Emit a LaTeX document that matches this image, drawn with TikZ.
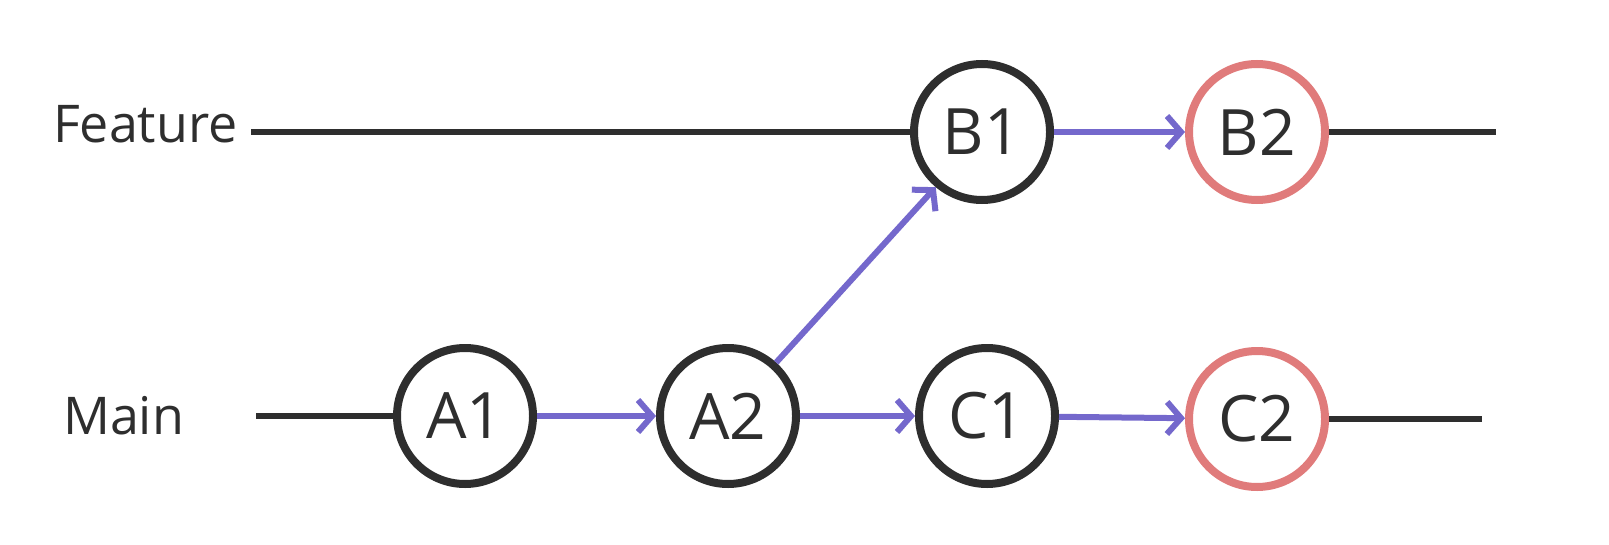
\documentclass[tikz,border=0pt]{standalone}
\usepackage{fontspec}
\setmainfont{Open Sans}
\usetikzlibrary{arrows.meta}

\definecolor{penblack}{HTML}{2E2E2E}
\definecolor{penblue}{HTML}{7468CC}
\definecolor{penred}{HTML}{E07B7B}

\begin{document}
\begin{tikzpicture}[x=0.5pt,y=-0.5pt,
  commit/.style={circle,draw=penblack,line width=4pt,minimum size=68pt,inner sep=0pt,
    text=penblack,font=\fontsize{32}{34}\selectfont},
  newcommit/.style={commit,draw=penred},
  branch/.style={draw=penblack,line width=3pt},
  flow/.style={draw=penblue,line width=3pt,-{Straight Barb[length=7pt,width=16pt]}},
  lbl/.style={anchor=west,text=penblack,font=\fontsize{26}{28}\selectfont}]
\path (0,0) rectangle (1609,545);
% branch names
\node[lbl] (featlbl) at (46,124) {Feature};
\node[lbl] (mainlbl) at (56,416) {Main};
% commits
\node[commit] (a1) at (465,416) {A1};
\node[commit] (a2) at (728,416) {A2};
\node[commit] (c1) at (987,416) {C1};
\node[newcommit] (c2) at (1257,419) {C2};
\node[commit] (b1) at (982,132) {B1};
\node[newcommit] (b2) at (1257,132) {B2};
% branch lines
\coordinate (featstart) at (251,132);
\coordinate (mainstart) at (256,416);
\coordinate (featend) at (1496,132);
\coordinate (mainend) at (1482,419);
\draw[branch] (featstart) -- (b1.west);
\draw[branch] (mainstart) -- (a1.west);
\draw[branch] (b2.east) -- (featend);
\draw[branch] (c2.east) -- (mainend);
% history
\draw[flow] (a1) -- (a2);
\draw[flow] (a2) -- (c1);
\draw[flow] (c1) -- (c2);
\draw[flow] (a2.48) -- (b1.230);
\draw[flow] (b1) -- (b2);
\end{tikzpicture}
\end{document}
